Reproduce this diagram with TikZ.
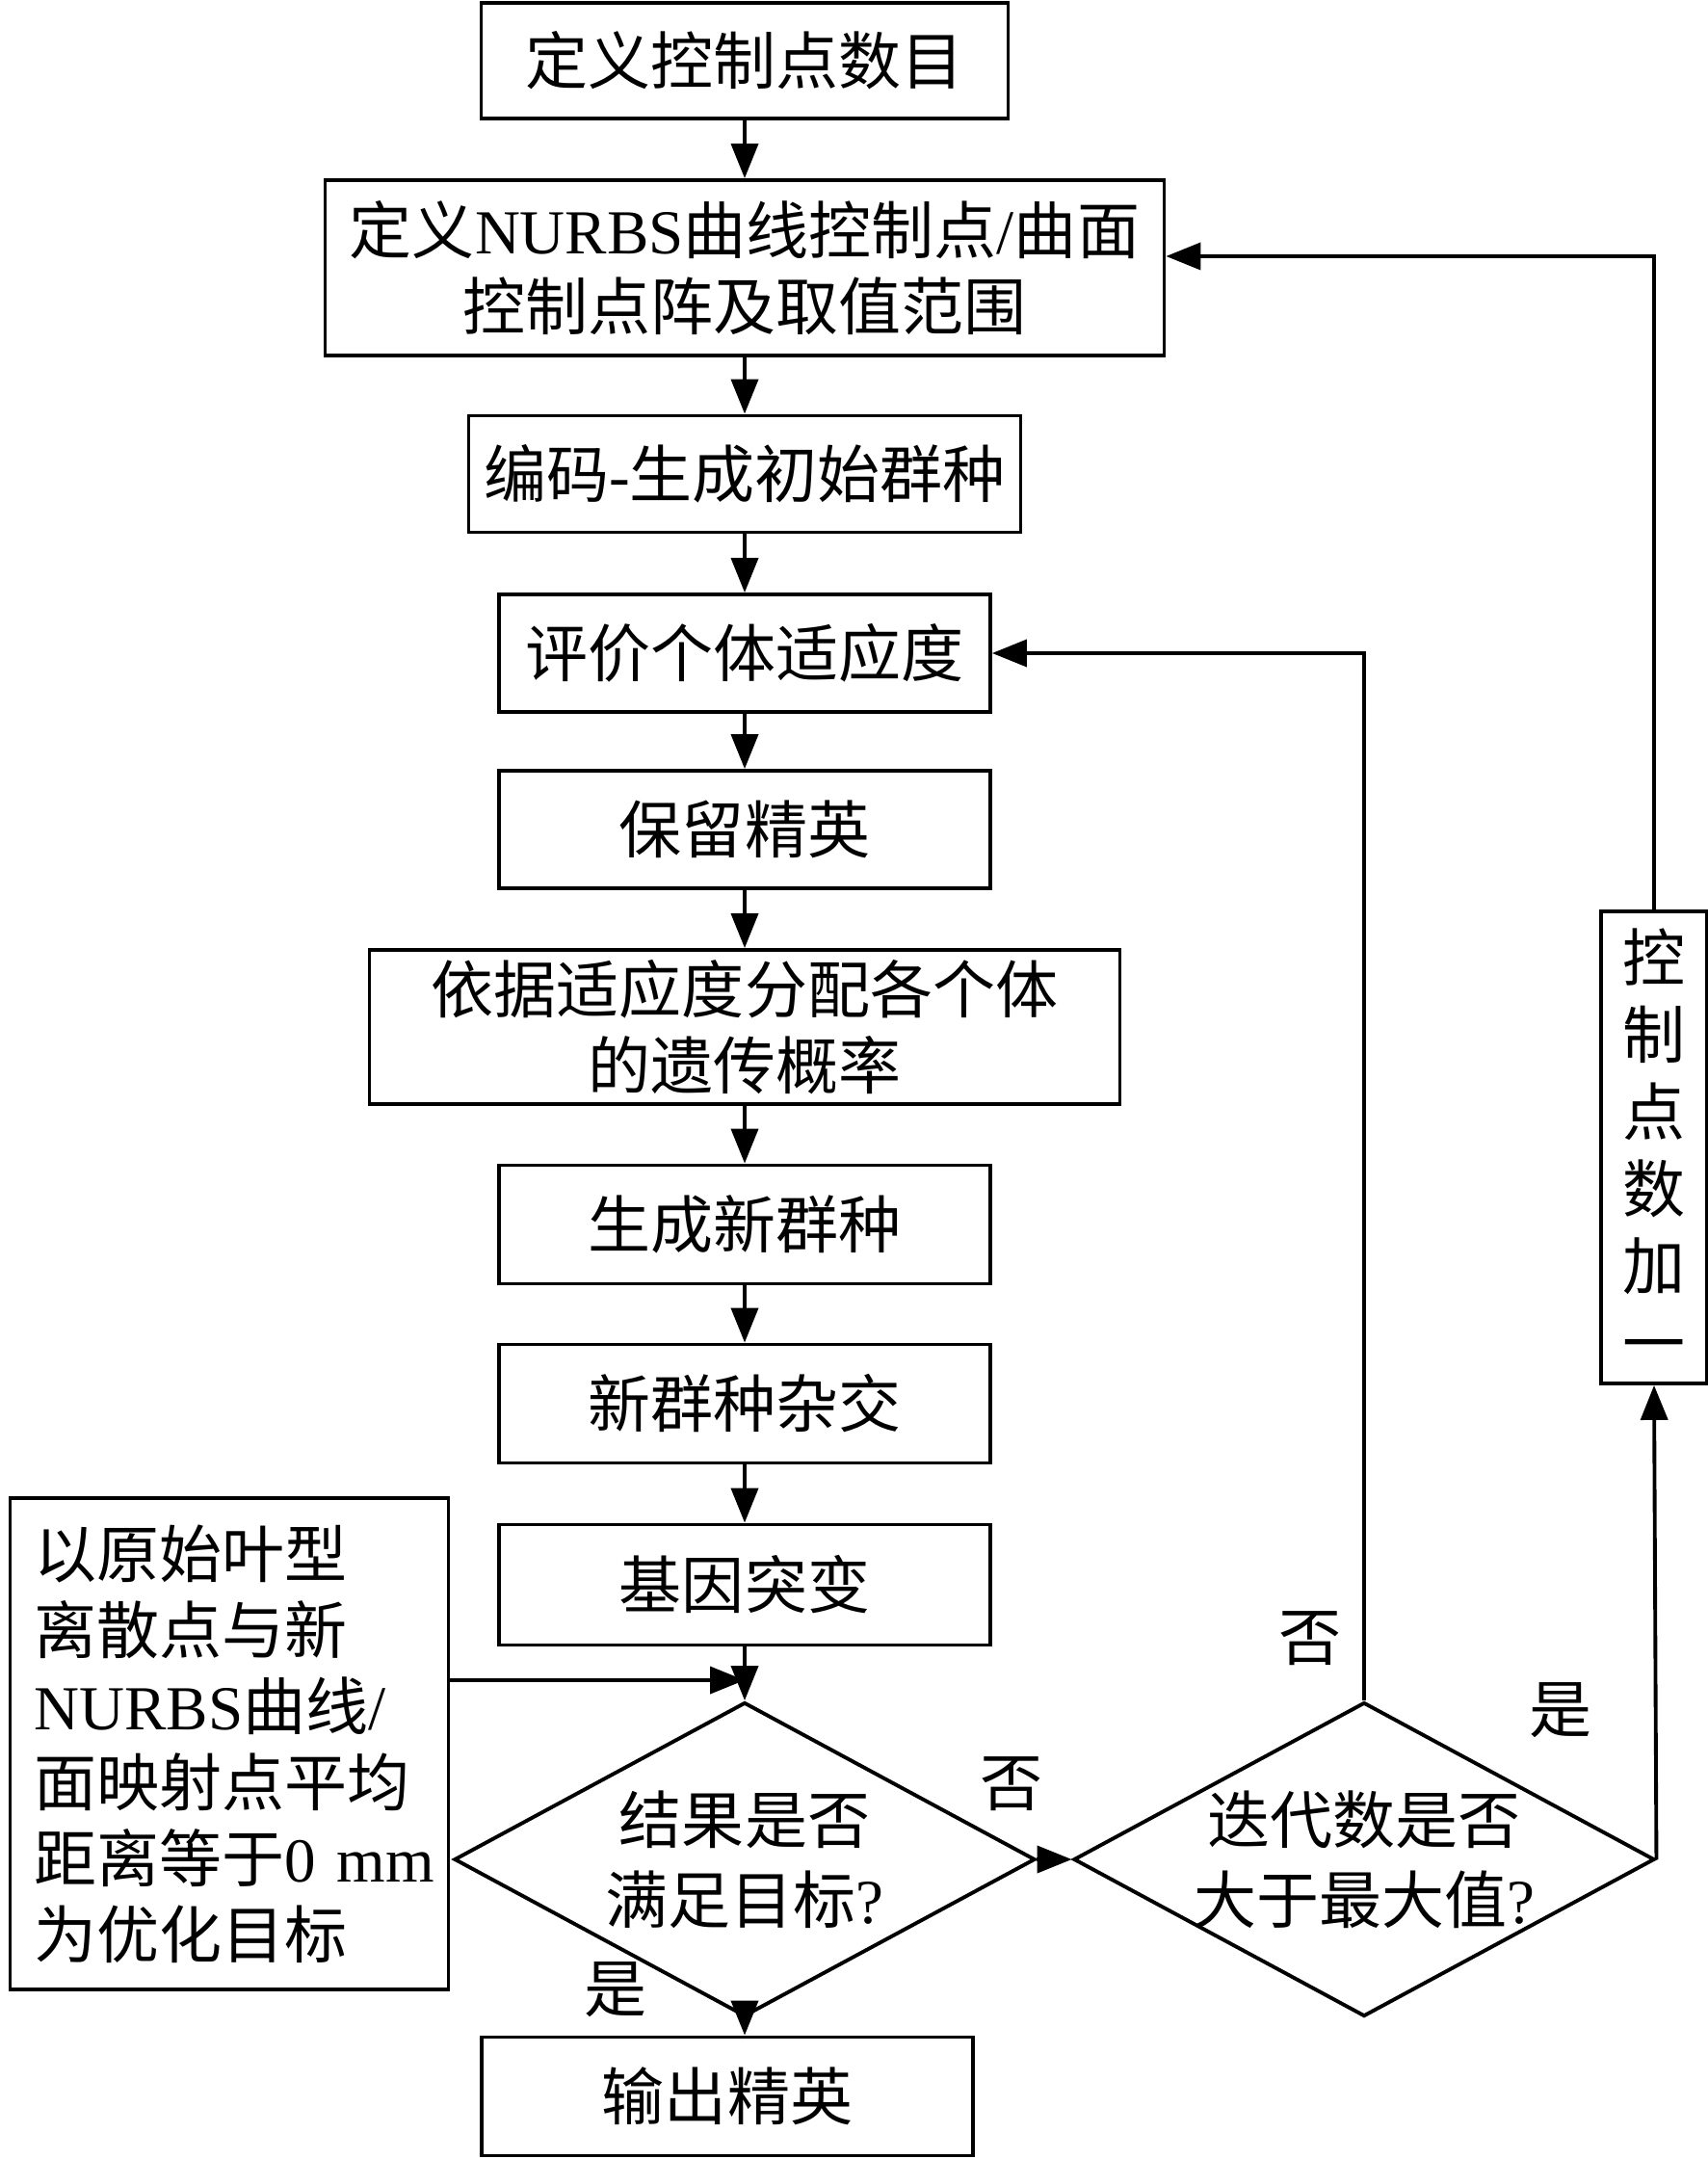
\documentclass[tikz,border=0pt]{standalone}
\usepackage{fontspec}
\setmainfont{Noto Sans CJK SC}
\newfontfamily\lat{Liberation Serif}
\usetikzlibrary{shapes.geometric,arrows.meta}

\tikzset{
  stepbox/.style={draw, line width=1.1pt, inner sep=0pt, align=center,
    font=\fontsize{18.5}{22.5}\selectfont},
  testbox/.style={draw, diamond, aspect=1.85, line width=1.1pt, inner sep=-6pt, align=center,
    minimum width=6.03cm, minimum height=3.26cm,
    font=\fontsize{18.5}{23.5}\selectfont},
  flow/.style={->, line width=1.1pt},
  tag/.style={font=\fontsize{18.5}{22}\selectfont}
}

\begin{document}
\begin{tikzpicture}[>={Triangle[length=3.6mm,width=2.8mm]}]
        \useasboundingbox (0,0) rectangle (17.72,-22.41);
        % Main chain
        \node[stepbox, minimum width=5.47cm, minimum height=1.20cm] (count) at (7.73,-0.63) {定义控制点数目};
        \node[stepbox, minimum width=8.71cm, minimum height=1.82cm] (range) at (7.73,-2.78)
          {定义{\lat NURBS}曲线控制点{\lat /}曲面\\控制点阵及取值范围};
        \node[stepbox, minimum width=5.73cm, minimum height=1.21cm] (encode) at (7.73,-4.92) {编码{\lat -}生成初始群种};
        \node[stepbox, minimum width=5.10cm, minimum height=1.22cm] (fitness) at (7.73,-6.78) {评价个体适应度};
        \node[stepbox, minimum width=5.10cm, minimum height=1.22cm] (elite) at (7.73,-8.61) {保留精英};
        \node[stepbox, minimum width=7.79cm, minimum height=1.60cm] (prob) at (7.73,-10.66)
          {依据适应度分配各个体\\的遗传概率};
        \node[stepbox, minimum width=5.10cm, minimum height=1.23cm] (newpop) at (7.73,-12.71) {生成新群种};
        \node[stepbox, minimum width=5.10cm, minimum height=1.23cm] (cross) at (7.73,-14.57) {新群种杂交};
        \node[stepbox, minimum width=5.10cm, minimum height=1.25cm] (mutate) at (7.73,-16.45) {基因突变};
        % Decisions
        \node[testbox] (check) at (7.73,-19.30) {结果是否\\满足目标{\lat ?}};
        \node[testbox] (iter) at (14.16,-19.30) {迭代数是否\\大于最大值{\lat ?}};
        \node[stepbox, minimum width=5.10cm, minimum height=1.23cm] (output) at (7.55,-21.76) {输出精英};
        % Side boxes
        \node[stepbox, align=left, text width=4.05cm, inner xsep=0.25cm, minimum height=5.10cm] (goal) at (2.38,-18.10)
          {以原始叶型\\离散点与新\\{\lat NURBS}曲线{\lat /}\\面映射点平均\\距离等于{\lat 0~mm}\\为优化目标};
        \node[stepbox, minimum width=1.10cm, minimum height=4.90cm, font=\fontsize{18.5}{22.8}\selectfont] (inc) at (17.17,-11.91)
          {控\\制\\点\\数\\加\\一};
        \coordinate (join) at (7.73,-17.44);
        \coordinate (back) at (17.17,-2.66);
        % Arrows down the chain
        \draw[flow] (count) -- (range);
        \draw[flow] (range) -- (encode);
        \draw[flow] (encode) -- (fitness);
        \draw[flow] (fitness) -- (elite);
        \draw[flow] (elite) -- (prob);
        \draw[flow] (prob) -- (newpop);
        \draw[flow] (newpop) -- (cross);
        \draw[flow] (cross) -- (mutate);
        \draw[flow] (mutate) -- (check);
        \draw[flow] (join -| goal.east) -- (join);
        \draw[flow] (check.south) -- (check.south |- output.north);
        % Loops
        \draw[flow] (check.east) -- (iter.west);
        \draw[flow] (iter.north) |- (fitness.east);
        \draw[flow] (iter.east) -- (inc.south);
        \draw[flow] (inc.north) -- (back) -- (back -| range.east);
        % Branch labels
        \node[tag] (no1) at (13.60,-17.01) {否};
        \node[tag] (yes1) at (16.20,-17.75) {是};
        \node[tag] (no2) at (10.50,-18.52) {否};
        \node[tag] (yes2) at (6.39,-20.65) {是};
      \end{tikzpicture}
\end{document}
